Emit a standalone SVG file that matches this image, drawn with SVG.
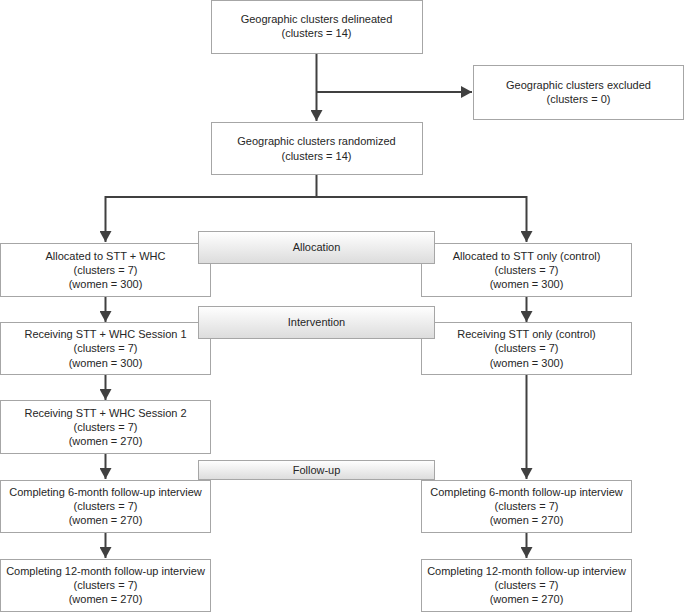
<svg xmlns="http://www.w3.org/2000/svg" width="685" height="612" viewBox="0 0 685 612">
<defs>
<marker id="ah" markerUnits="userSpaceOnUse" markerWidth="12" markerHeight="12" refX="11" refY="6" orient="auto">
<path d="M0,0 L11,6 L0,12 Z" fill="#404040"/>
</marker>
<linearGradient id="bandg" x1="0" y1="0" x2="0" y2="1">
<stop offset="0" stop-color="#ffffff"/>
<stop offset="1" stop-color="#dcdcdc"/>
</linearGradient>
</defs>
<style>
.box{fill:#ffffff;stroke:#a6a6a6;stroke-width:1}
.band{fill:url(#bandg);stroke:#a6a6a6;stroke-width:1}
.t{font-family:"Liberation Sans",Arial,sans-serif;font-size:11px;fill:#262626;text-anchor:middle}
.c{fill:none;stroke:#404040;stroke-width:2}
</style>
<rect width="685" height="612" fill="#ffffff"/>
<g id="connectors">
<path class="c" d="M316.5,53 V121" marker-end="url(#ah)"/>
<path class="c" d="M316.5,92 H472" marker-end="url(#ah)"/>
<path class="c" d="M316.5,174 V197 H105.5 V242" marker-end="url(#ah)"/>
<path class="c" d="M316.5,197 H526.5 V242" marker-end="url(#ah)"/>
<path class="c" d="M105.5,296 V322" marker-end="url(#ah)"/>
<path class="c" d="M526.5,296 V322" marker-end="url(#ah)"/>
<path class="c" d="M105.5,374 V400" marker-end="url(#ah)"/>
<path class="c" d="M526.5,374 V479" marker-end="url(#ah)"/>
<path class="c" d="M105.5,453 V479" marker-end="url(#ah)"/>
<path class="c" d="M105.5,533 V558" marker-end="url(#ah)"/>
<path class="c" d="M526.5,533 V558" marker-end="url(#ah)"/>
</g>
<g id="delineated">
<rect class="box" x="211.5" y="0.5" width="211" height="53"/>
<text class="t" x="316.5" y="23">Geographic clusters delineated</text>
<text class="t" x="316.5" y="37">(clusters = 14)</text>
</g>
<g id="excluded">
<rect class="box" x="473.5" y="65.5" width="210" height="54"/>
<text class="t" x="578.5" y="89">Geographic clusters excluded</text>
<text class="t" x="578.5" y="103">(clusters = 0)</text>
</g>
<g id="randomized">
<rect class="box" x="211.5" y="122.5" width="211" height="52"/>
<text class="t" x="316.5" y="145">Geographic clusters randomized</text>
<text class="t" x="316.5" y="160">(clusters = 14)</text>
</g>
<g id="alloc-left">
<rect class="box" x="0.5" y="243.5" width="210" height="53"/>
<text class="t" x="105.5" y="260">Allocated to STT + WHC</text>
<text class="t" x="105.5" y="274">(clusters = 7)</text>
<text class="t" x="105.5" y="288">(women = 300)</text>
</g>
<g id="alloc-right">
<rect class="box" x="421.5" y="243.5" width="210" height="53"/>
<text class="t" x="526.5" y="260">Allocated to STT only (control)</text>
<text class="t" x="526.5" y="274">(clusters = 7)</text>
<text class="t" x="526.5" y="288">(women = 300)</text>
</g>
<g id="session1">
<rect class="box" x="0.5" y="322.5" width="210" height="52"/>
<text class="t" x="105.5" y="338">Receiving STT + WHC Session 1</text>
<text class="t" x="105.5" y="352">(clusters = 7)</text>
<text class="t" x="105.5" y="367">(women = 300)</text>
</g>
<g id="control-receiving">
<rect class="box" x="421.5" y="322.5" width="210" height="52"/>
<text class="t" x="526.5" y="338">Receiving STT only (control)</text>
<text class="t" x="526.5" y="352">(clusters = 7)</text>
<text class="t" x="526.5" y="367">(women = 300)</text>
</g>
<g id="session2">
<rect class="box" x="0.5" y="400.5" width="210" height="53"/>
<text class="t" x="105.5" y="417">Receiving STT + WHC Session 2</text>
<text class="t" x="105.5" y="431">(clusters = 7)</text>
<text class="t" x="105.5" y="445">(women = 270)</text>
</g>
<g id="fu6-left">
<rect class="box" x="0.5" y="480.5" width="210" height="52"/>
<text class="t" x="105.5" y="496">Completing 6-month follow-up interview</text>
<text class="t" x="105.5" y="510">(clusters = 7)</text>
<text class="t" x="105.5" y="524">(women = 270)</text>
</g>
<g id="fu6-right">
<rect class="box" x="421.5" y="480.5" width="210" height="52"/>
<text class="t" x="526.5" y="496">Completing 6-month follow-up interview</text>
<text class="t" x="526.5" y="510">(clusters = 7)</text>
<text class="t" x="526.5" y="524">(women = 270)</text>
</g>
<g id="fu12-left">
<rect class="box" x="0.5" y="559.5" width="210" height="52"/>
<text class="t" x="105.5" y="575">Completing 12-month follow-up interview</text>
<text class="t" x="105.5" y="589">(clusters = 7)</text>
<text class="t" x="105.5" y="603">(women = 270)</text>
</g>
<g id="fu12-right">
<rect class="box" x="421.5" y="559.5" width="210" height="52"/>
<text class="t" x="526.5" y="575">Completing 12-month follow-up interview</text>
<text class="t" x="526.5" y="589">(clusters = 7)</text>
<text class="t" x="526.5" y="603">(women = 270)</text>
</g>
<g id="band-allocation">
<rect class="band" x="198.5" y="231.5" width="236" height="32"/>
<text class="t" x="316.5" y="251">Allocation</text>
</g>
<g id="band-intervention">
<rect class="band" x="198.5" y="306.5" width="236" height="32"/>
<text class="t" x="316.5" y="326">Intervention</text>
</g>
<g id="band-followup">
<rect class="band" x="198.5" y="460.5" width="236" height="19"/>
<text class="t" x="316.5" y="474">Follow-up</text>
</g>
</svg>
